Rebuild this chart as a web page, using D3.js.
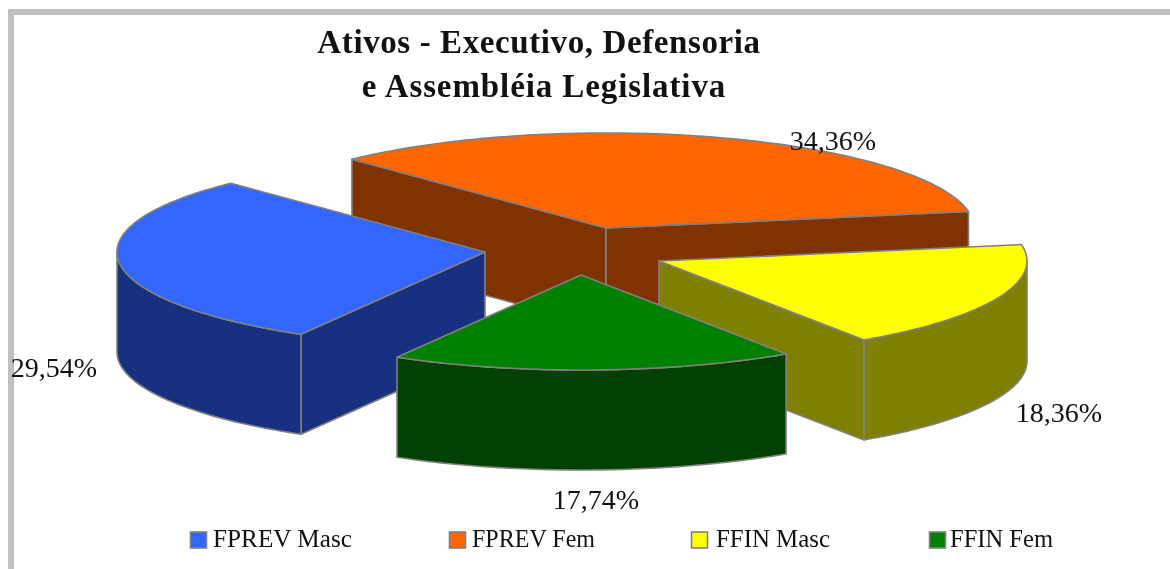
<!DOCTYPE html>
<html>
<head>
<meta charset="utf-8">
<script src="https://cdn.jsdelivr.net/npm/d3@7"></script>
<style>
html,body{margin:0;padding:0;background:#fff;}
svg{display:block;}
text{font-family:"Liberation Serif",serif;fill:#111;filter:blur(0.4px);}
</style>
</head>
<body>
<svg id="c" width="1170" height="569"></svg>
<script>
const categories = ["FPREV Masc","FPREV Fem","FFIN Masc","FFIN Fem"];
const values = [29.54,34.36,18.36,17.74];
const valueLabels = ["29,54%","34,36%","18,36%","17,74%"];
const titleLines = ["Ativos - Executivo, Defensoria","e Assembléia Legislativa"];
const topColors = ["#3366ff","#ff6600","#ffff00","#008000"];
const sideColors = ["#17307f","#803300","#808000","#004000"];

// layout
const W = 1170, H = 569;
const centers = [[485,252],[606,228],[659,261],[581,275]];
const rx = 368, ry = 95, depth = 100;
const startDeg = 210;
const labelPos = [[54,377],[833,150],[1059,422],[596,509]];
const legendX = [190,449,691,929];
const legendTextX = [213,472,716,950];
const legendTextW = [139,123,114,103];
const edge = "#808080";

const svg = d3.select("#c");
// frame
svg.append("path").attr("d",`M11,${H}V12H${W}`).attr("fill","none")
   .attr("stroke","#c0c0c0").attr("stroke-width",6);

const sx = d3.scaleLinear().domain([-1,1]).range([-rx,rx]);
const sy = d3.scaleLinear().domain([-1,1]).range([-ry,ry]);
const pie = d3.pie().sort(null).value(d=>d)
  .startAngle(startDeg*Math.PI/180).endAngle((startDeg+360)*Math.PI/180);
const arcs = pie(values);
const line = d3.line();

function pt(c,t,dz){ return [c[0]+sx(Math.cos(t)), c[1]+sy(Math.sin(t))+dz]; }
function arcPts(c,t0,t1,dz){
  const n = Math.max(2,Math.ceil((t1-t0)*60));
  return d3.range(n+1).map(i=>pt(c,t0+(t1-t0)*i/n,dz));
}
// paint order: back to front
[1,0,2,3].forEach(i=>{
  const a = arcs[i], c = centers[i];
  const t0 = a.startAngle-Math.PI/2, t1 = a.endAngle-Math.PI/2;
  const g = svg.append("g");
  const wall = pts => g.append("path").attr("d",line(pts)+"Z")
     .attr("fill",sideColors[i]).attr("stroke",edge).attr("stroke-width",1.6).attr("stroke-linejoin","round");
  const apexB = [c[0],c[1]+depth];
  // flat cut faces that look toward the viewer
  if(Math.cos(t0)<0){ const p=pt(c,t0,0); wall([c,p,[p[0],p[1]+depth],apexB]); }
  if(Math.cos(t1)>0){ const p=pt(c,t1,0); wall([c,p,[p[0],p[1]+depth],apexB]); }
  // curved rim, front half only
  const segs = [[0,Math.PI],[2*Math.PI,3*Math.PI],[-2*Math.PI,-Math.PI]];
  segs.forEach(([lo,hi])=>{
    const u0=Math.max(t0,lo), u1=Math.min(t1,hi);
    if(u1>u0){
      const topEdge=arcPts(c,u0,u1,0), botEdge=arcPts(c,u0,u1,depth).reverse();
      wall(topEdge.concat(botEdge));
    }
  });
  // top face
  g.append("path").attr("d",line([c].concat(arcPts(c,t0,t1,0)))+"Z")
   .attr("fill",topColors[i]).attr("stroke",edge).attr("stroke-width",1.6).attr("stroke-linejoin","round");
});

// title
svg.selectAll("text.title").data(titleLines).join("text").attr("class","title")
  .attr("x",(d,i)=>[539,544][i]).attr("y",(d,i)=>[53,97][i])
  .attr("text-anchor","middle").attr("font-weight","bold").attr("font-size",33)
  .attr("letter-spacing",(d,i)=>[0.6,0.9][i]).text(d=>d);

// value labels
svg.selectAll("text.val").data(valueLabels).join("text").attr("class","val")
  .attr("x",(d,i)=>labelPos[i][0]).attr("y",(d,i)=>labelPos[i][1])
  .attr("text-anchor","middle").attr("font-size",28).text(d=>d);

// legend
const lg = svg.selectAll("g.lg").data(categories).join("g").attr("class","lg");
lg.append("rect").attr("x",(d,i)=>legendX[i]+0.5).attr("y",532).attr("width",16).attr("height",16)
  .attr("fill",(d,i)=>topColors[i]).attr("stroke",edge).attr("stroke-width",1.6);
lg.append("text").attr("x",(d,i)=>legendTextX[i]).attr("y",547).attr("font-size",25)
  .attr("textLength",(d,i)=>legendTextW[i]).attr("lengthAdjust","spacingAndGlyphs").text(d=>d);
</script>
</body>
</html>
